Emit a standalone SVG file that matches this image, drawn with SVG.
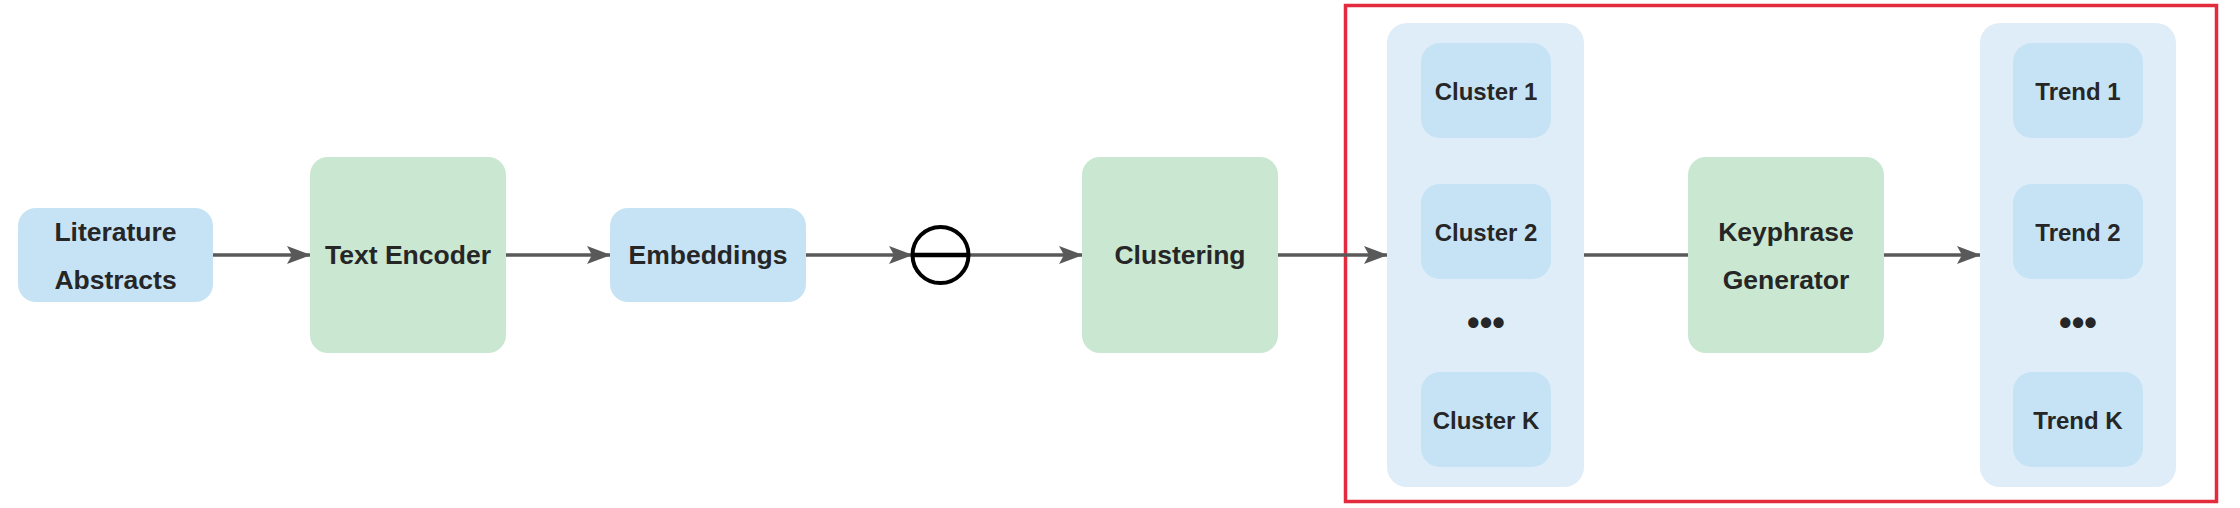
<svg xmlns="http://www.w3.org/2000/svg" width="2240" height="508" viewBox="0 0 2240 508">
<style>
.blue{fill:#C6E3F5}
.green{fill:#C9E7D1}
.grp{fill:#DFEDF9}
.t{font-family:"Liberation Sans",Arial,sans-serif;font-weight:bold;font-size:26.5px;fill:#262626;text-anchor:middle;dominant-baseline:central}
.ts{font-size:24px}
.dots{font-family:"Liberation Sans",Arial,sans-serif;font-weight:bold;font-size:36px;fill:#262626;text-anchor:middle;dominant-baseline:central}
.c{stroke:#595959;stroke-width:3.5;fill:none}
</style>
<defs>
<marker id="ah" markerUnits="userSpaceOnUse" markerWidth="24" markerHeight="18" refX="23" refY="9" orient="auto" viewBox="0 0 24 18">
<path d="M0,0 L24,9 L0,18 L5,9 Z" fill="#595959"/>
</marker>
</defs>
<rect id="frame" x="1345.5" y="5.5" width="871" height="496" fill="none" stroke="#E32B3D" stroke-width="3.5"/>
<g id="connectors">
<line class="c" x1="213" y1="255" x2="310" y2="255" marker-end="url(#ah)"/>
<line class="c" x1="506" y1="255" x2="610" y2="255" marker-end="url(#ah)"/>
<line class="c" x1="806" y1="255" x2="912" y2="255" marker-end="url(#ah)"/>
<line class="c" x1="968" y1="255" x2="1082" y2="255" marker-end="url(#ah)"/>
<line class="c" x1="1278" y1="255" x2="1387" y2="255" marker-end="url(#ah)"/>
<line class="c" x1="1584" y1="255" x2="1688" y2="255"/>
<line class="c" x1="1884" y1="255" x2="1980" y2="255" marker-end="url(#ah)"/>
</g>
<g id="literature">
<rect class="blue" x="18" y="208" width="195" height="94" rx="18"/>
<text class="t" x="115.5" y="232">Literature</text>
<text class="t" x="115.5" y="280">Abstracts</text>
</g>
<g id="text-encoder">
<rect class="green" x="310" y="157" width="196" height="196" rx="18"/>
<text class="t" x="408" y="255">Text Encoder</text>
</g>
<g id="embeddings">
<rect class="blue" x="610" y="208" width="196" height="94" rx="18"/>
<text class="t" x="708" y="255">Embeddings</text>
</g>
<g id="operator">
<circle cx="940.5" cy="255" r="28" fill="none" stroke="#000" stroke-width="4"/>
<line x1="912" y1="255" x2="969" y2="255" stroke="#000" stroke-width="4.5"/>
</g>
<g id="clustering">
<rect class="green" x="1082" y="157" width="196" height="196" rx="18"/>
<text class="t" x="1180" y="255">Clustering</text>
</g>
<g id="clusters">
<rect class="grp" x="1387" y="23" width="197" height="464" rx="20"/>
<g id="cluster-1"><rect class="blue" x="1421" y="43" width="130" height="95" rx="19"/><text class="t ts" x="1486" y="91">Cluster 1</text></g>
<g id="cluster-2"><rect class="blue" x="1421" y="184" width="130" height="95" rx="19"/><text class="t ts" x="1486" y="232">Cluster 2</text></g>
<text class="dots" x="1486" y="322">•••</text>
<g id="cluster-k"><rect class="blue" x="1421" y="372" width="130" height="95" rx="19"/><text class="t ts" x="1486" y="420">Cluster K</text></g>
</g>
<g id="keyphrase-generator">
<rect class="green" x="1688" y="157" width="196" height="196" rx="18"/>
<text class="t" x="1786" y="232">Keyphrase</text>
<text class="t" x="1786" y="280">Generator</text>
</g>
<g id="trends">
<rect class="grp" x="1980" y="23" width="196" height="464" rx="20"/>
<g id="trend-1"><rect class="blue" x="2013" y="43" width="130" height="95" rx="19"/><text class="t ts" x="2078" y="91">Trend 1</text></g>
<g id="trend-2"><rect class="blue" x="2013" y="184" width="130" height="95" rx="19"/><text class="t ts" x="2078" y="232">Trend 2</text></g>
<text class="dots" x="2078" y="322">•••</text>
<g id="trend-k"><rect class="blue" x="2013" y="372" width="130" height="95" rx="19"/><text class="t ts" x="2078" y="420">Trend K</text></g>
</g>
</svg>
